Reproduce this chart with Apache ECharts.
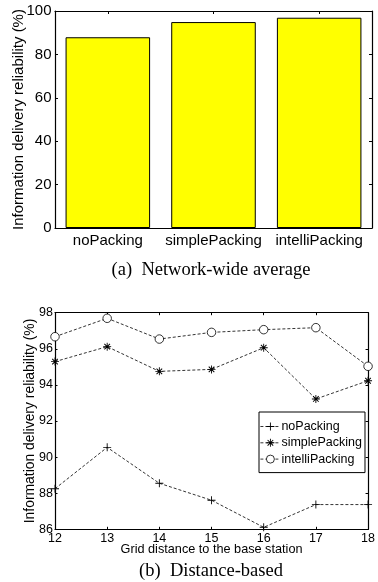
<!DOCTYPE html>
<html>
<head>
<meta charset="utf-8">
<script src="https://cdn.jsdelivr.net/npm/echarts@6/dist/echarts.min.js"></script>
<style>
  html, body { margin: 0; padding: 0; background: #fff; }
  #chart { width: 378px; height: 582px; }
</style>
</head>
<body>
<div id="chart"></div>
<script>
// (a) network-wide average reliability per packing scheme
const schemes = ['noPacking', 'simplePacking', 'intelliPacking'];
const averageReliability = [87.9, 94.9, 96.9];

// (b) reliability against grid distance to the base station
const distances = [12, 13, 14, 15, 16, 17, 18];
const noPacking = [88.25, 90.54, 88.55, 87.61, 86.11, 87.37, 87.37];
const simplePacking = [95.29, 96.12, 94.75, 94.86, 96.06, 93.22, 94.23];
const intelliPacking = [96.67, 97.69, 96.54, 96.91, 97.06, 97.17, 95.03];

const SANS = '"Liberation Sans", Arial, sans-serif';
const SERIF = '"Liberation Serif", "Times New Roman", serif';

// marker shapes: thin plus and eight-armed asterisk (filled thin bars)
const PLUS = 'path://M0,4.45H10V5.55H0Z M4.45,0H5.55V10H4.45Z';
const STAR = 'path://M0,4.45H10V5.55H0Z M4.45,0H5.55V10H4.45Z ' +
  'M1.92,1.08L8.92,8.08L8.08,8.92L1.08,1.92Z ' +
  'M8.92,1.92L1.92,8.92L1.08,8.08L8.08,1.08Z';

const pairs = ys => distances.map((d, i) => [d, ys[i]]);

const boxLine = { show: true, onZero: false, lineStyle: { color: '#000', width: 1.2 } };
const inTick = len => ({ show: true, inside: true, length: len, lineStyle: { color: '#000', width: 1 } });

function lineSeries(name, ys, symbol, size, fill, border) {
  return {
    type: 'line', name, xAxisIndex: 2, yAxisIndex: 2,
    data: pairs(ys), symbol, symbolSize: size, clip: false,
    lineStyle: { color: '#000', width: 0.8, type: [3, 2] },
    itemStyle: { color: fill, borderColor: '#000', borderWidth: border },
    emphasis: { disabled: true }, animation: false
  };
}

const chart = echarts.init(document.getElementById('chart'), null, { renderer: 'canvas' });
chart.setOption({
  backgroundColor: '#fff',
  animation: false,
  textStyle: { fontFamily: SANS, color: '#000' },
  title: [
    { text: '(a)  Network-wide average', left: 206, top: 256, textAlign: 'center',
      textStyle: { fontFamily: SERIF, fontSize: 18.5, fontWeight: 'normal', color: '#000' } },
    { text: '(b)  Distance-based', left: 206, top: 557, textAlign: 'center',
      textStyle: { fontFamily: SERIF, fontSize: 18.5, fontWeight: 'normal', color: '#000' } }
  ],
  grid: [
    { left: 55, top: 11, width: 317, height: 217 },
    { left: 55, top: 312.7, width: 318, height: 216.6 }
  ],
  legend: {
    data: [
      { name: 'noPacking', itemStyle: { borderWidth: 0 } },
      { name: 'simplePacking', itemStyle: { borderWidth: 0 } },
      { name: 'intelliPacking', itemStyle: { borderWidth: 0.8, borderColor: '#000', color: '#fff' } }
    ],
    orient: 'vertical', left: 259, top: 412,
    padding: [8, 3, 7, 1],
    itemWidth: 20, itemHeight: 10, itemGap: 3.3,
    backgroundColor: '#fff', borderColor: '#000', borderWidth: 1,
    lineStyle: { type: [3, 2], width: 0.8 },
    textStyle: { fontFamily: SANS, fontSize: 12.5, color: '#000', lineHeight: 13, padding: [0, 0, 0, -4] },
    selectedMode: false
  },
  xAxis: [
    { type: 'category', gridIndex: 0, data: schemes, position: 'bottom',
      axisLine: boxLine, axisTick: Object.assign(inTick(3), { alignWithLabel: true }),
      axisLabel: { fontFamily: SANS, fontSize: 15, color: '#000', margin: 5, interval: 0, hideOverlap: false } },
    { type: 'category', gridIndex: 0, data: schemes, position: 'top',
      axisLine: boxLine, axisTick: Object.assign(inTick(3), { alignWithLabel: true }),
      axisLabel: { show: false } },
    { type: 'value', gridIndex: 1, min: 12, max: 18, interval: 1, position: 'bottom',
      name: 'Grid distance to the base station', nameLocation: 'middle', nameGap: 14,
      nameMoveOverlap: false,
      nameTextStyle: { fontFamily: SANS, fontSize: 12.7, color: '#000' },
      axisLine: boxLine, axisTick: inTick(2.5), splitLine: { show: false },
      axisLabel: { fontFamily: SANS, fontSize: 12.5, color: '#000', margin: 3 } },
    { type: 'value', gridIndex: 1, min: 12, max: 18, interval: 1, position: 'top',
      axisLine: boxLine, axisTick: inTick(2.5), splitLine: { show: false },
      axisLabel: { show: false } }
  ],
  yAxis: [
    { type: 'value', gridIndex: 0, min: 0, max: 100, interval: 20, position: 'left',
      name: 'Information delivery reliability (%)', nameLocation: 'middle', nameGap: 29,
      nameMoveOverlap: false,
      nameTextStyle: { fontFamily: SANS, fontSize: 15, color: '#000' },
      axisLine: boxLine, axisTick: inTick(3), splitLine: { show: false },
      axisLabel: { fontFamily: SANS, fontSize: 15, color: '#000', margin: 3.5 } },
    { type: 'value', gridIndex: 0, min: 0, max: 100, interval: 20, position: 'right',
      axisLine: boxLine, axisTick: inTick(3), splitLine: { show: false },
      axisLabel: { show: false } },
    { type: 'value', gridIndex: 1, min: 86, max: 98, interval: 2, position: 'left',
      name: 'Information delivery reliability (%)', nameLocation: 'middle', nameGap: 18,
      nameMoveOverlap: false,
      nameTextStyle: { fontFamily: SANS, fontSize: 13.9, color: '#000' },
      axisLine: boxLine, axisTick: inTick(2.5), splitLine: { show: false },
      axisLabel: { fontFamily: SANS, fontSize: 12.5, color: '#000', margin: 2 } },
    { type: 'value', gridIndex: 1, min: 86, max: 98, interval: 2, position: 'right',
      axisLine: boxLine, axisTick: inTick(2.5), splitLine: { show: false },
      axisLabel: { show: false } }
  ],
  series: [
    { type: 'bar', name: 'average', xAxisIndex: 0, yAxisIndex: 0,
      data: averageReliability, barWidth: '80%',
      itemStyle: { color: '#ffff00', borderColor: '#000', borderWidth: 1 },
      emphasis: { disabled: true } },
    lineSeries('noPacking', noPacking, PLUS, 8, '#000', 0),
    lineSeries('simplePacking', simplePacking, STAR, 8, '#000', 0),
    lineSeries('intelliPacking', intelliPacking, 'circle', 8.5, '#fff', 0.8)
  ]
});
</script>
</body>
</html>
